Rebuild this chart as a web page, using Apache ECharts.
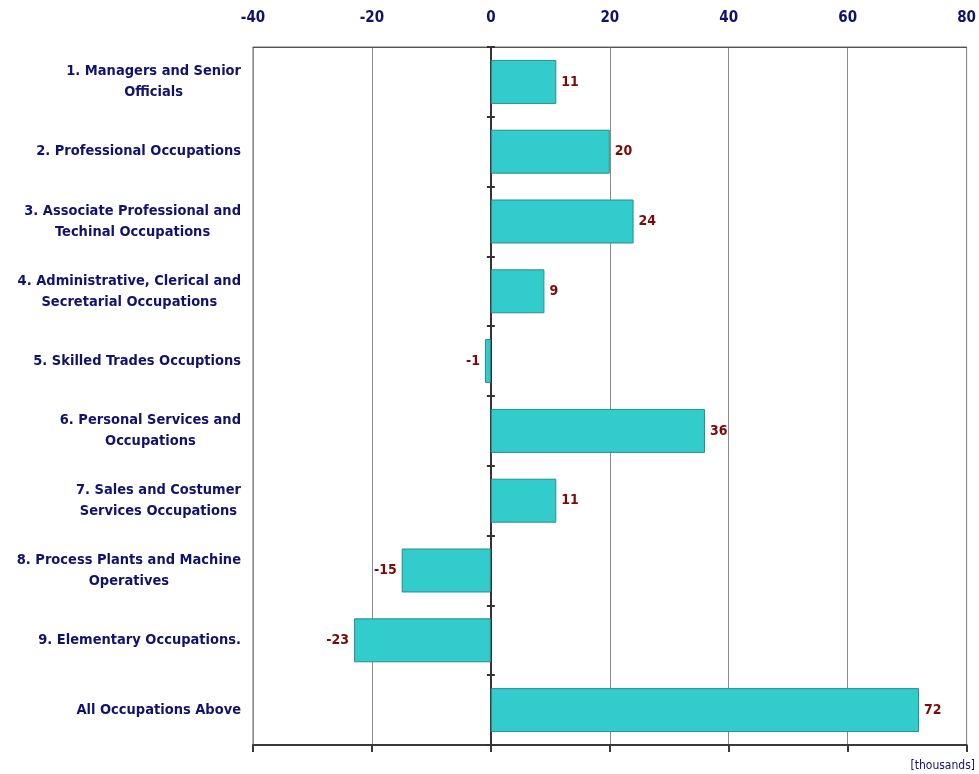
<!DOCTYPE html>
<html>
<head>
<meta charset="utf-8">
<script src="https://cdn.jsdelivr.net/npm/echarts@6/dist/echarts.min.js"></script>
<style>
  html, body { margin: 0; padding: 0; background: #ffffff; }
  #chart { width: 979px; height: 774px; }
</style>
</head>
<body>
<div id="chart"></div>
<script>
// Occupation groups (top to bottom), with line breaks as laid out on the axis
const categories = [
  '1. Managers and Senior\nOfficials',
  '2. Professional Occupations',
  '3. Associate Professional and\nTechinal Occupations',
  '4. Administrative, Clerical and\nSecretarial Occupations',
  '5. Skilled Trades Occuptions',
  '6. Personal Services and\nOccupations',
  '7. Sales and Costumer\nServices Occupations',
  '8. Process Plants and Machine\nOperatives',
  '9. Elementary Occupations.',
  'All Occupations Above'
];

// Change in employment, thousands
const changes = [11, 20, 24, 9, -1, 36, 11, -15, -23, 72];

// Value axis range and step
const axisMin = -40;
const axisMax = 80;
const axisStep = 20;

const NAVY = '#12126e';
const CONDENSED = "'DejaVu Sans Condensed', 'Liberation Sans', Arial, sans-serif";

const chart = echarts.init(document.getElementById('chart'), null, { renderer: 'canvas' });

const barData = changes.map(v => ({
  value: v,
  label: { position: v < 0 ? 'left' : 'right' }
}));

// Wrap each line of a category label so lines centre within the label block
function categoryLabel(text) {
  return text.split('\n').map(line => '{c|' + line + '}').join('\n');
}

const option = {
  backgroundColor: '#ffffff',
  animation: false,
  grid: {
    left: 253,
    right: 10,
    top: 47,
    bottom: 29,
    show: true,
    borderColor: '#666666',
    borderWidth: 1,
    backgroundColor: 'transparent'
  },
  xAxis: [
    {
      type: 'value',
      position: 'bottom',
      min: axisMin,
      max: axisMax,
      interval: axisStep,
      axisLine: { show: true, onZero: false, lineStyle: { color: '#3a3a3a', width: 2 } },
      axisTick: { show: true, length: 7, lineStyle: { color: '#3a3a3a', width: 2 } },
      axisLabel: { show: false },
      splitLine: { show: true, lineStyle: { color: '#8a8a8a', width: 1 } }
    },
    {
      type: 'value',
      position: 'top',
      min: axisMin,
      max: axisMax,
      interval: axisStep,
      axisLine: { show: true, onZero: false, lineStyle: { color: '#555555', width: 1 } },
      axisTick: { show: false },
      splitLine: { show: false },
      axisLabel: {
        show: true,
        margin: 21,
        color: NAVY,
        fontFamily: CONDENSED,
        fontWeight: 'bold',
        fontSize: 15
      }
    }
  ],
  yAxis: [
    {
      type: 'category',
      data: categories,
      inverse: true,
      position: 'left',
      axisLine: { show: false, onZero: false },
      axisTick: { show: false },
      splitLine: { show: false },
      axisLabel: {
        show: true,
        margin: 12,
        align: 'right',
        formatter: categoryLabel,
        rich: {
          c: {
            align: 'center',
            color: NAVY,
            fontFamily: CONDENSED,
            fontWeight: 'bold',
            fontSize: 14.5,
            lineHeight: 21
          }
        }
      }
    },
    {
      type: 'category',
      data: categories,
      inverse: true,
      position: 'left',
      axisLine: { show: true, onZero: true, lineStyle: { color: '#333333', width: 2 } },
      axisTick: { show: true, inside: false, length: 4, lineStyle: { color: '#333333', width: 2 } },
      axisLabel: { show: false },
      splitLine: { show: false }
    },
    {
      type: 'category',
      data: categories,
      inverse: true,
      position: 'left',
      axisLine: { show: false, onZero: true },
      axisTick: { show: true, inside: true, length: 4, lineStyle: { color: '#333333', width: 2 } },
      axisLabel: { show: false },
      splitLine: { show: false }
    }
  ],
  series: [
    {
      type: 'bar',
      xAxisIndex: 0,
      yAxisIndex: 0,
      data: barData,
      barCategoryGap: '37%',
      itemStyle: {
        color: '#33cccc',
        borderColor: '#2a8c8c',
        borderWidth: 1
      },
      label: {
        show: true,
        distance: 5,
        color: '#7a0a0a',
        fontFamily: CONDENSED,
        fontWeight: 'bold',
        fontSize: 14
      },
      z: 3
    }
  ],
  graphic: [
    {
      type: 'text',
      right: 4,
      bottom: 2,
      style: {
        text: '[thousands]',
        fill: NAVY,
        font: "12px 'DejaVu Sans Condensed', 'Liberation Sans', Arial, sans-serif"
      }
    }
  ]
};

chart.setOption(option);
</script>
</body>
</html>
